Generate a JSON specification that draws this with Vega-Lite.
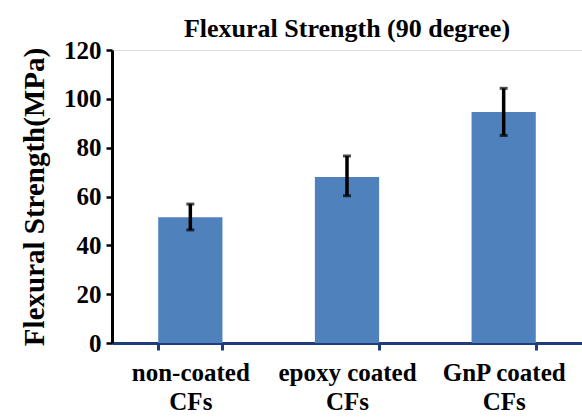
{
  "$schema": "https://vega.github.io/schema/vega-lite/v6.json",
  "width": 470,
  "height": 293,
  "autosize": {"type": "none"},
  "padding": {"left": 112, "top": 50, "right": 0, "bottom": 76},
  "background": "white",
  "title": {
    "text": "Flexural Strength (90 degree)",
    "font": "Liberation Serif",
    "fontSize": 26,
    "fontWeight": "bold",
    "color": "black",
    "anchor": "middle",
    "frame": "group",
    "offset": -4
  },
  "data": {
    "values": [
      {"group": "non-coated CFs", "strength": 51.5, "lo": 46.3, "hi": 56.9},
      {"group": "epoxy coated CFs", "strength": 68.0, "lo": 60.3, "hi": 76.6},
      {"group": "GnP coated CFs", "strength": 94.6, "lo": 85.0, "hi": 104.3}
    ]
  },
  "config": {
    "axis": {"grid": false, "labelFont": "Liberation Serif", "titleFont": "Liberation Serif", "labelFontWeight": "bold", "titleFontWeight": "bold", "labelColor": "black", "titleColor": "black"}
  },
  "layer": [
    {
      "mark": {"type": "bar", "color": "#4F81BD"},
      "encoding": {
        "x": {
          "field": "group",
          "type": "nominal",
          "sort": null,
          "scale": {"paddingInner": 0.59, "paddingOuter": 0.295},
          "axis": {
            "title": null,
            "labelAngle": 0,
            "labelFontSize": 25,
            "labelLineHeight": 29,
            "labelPadding": 10,
            "labelExpr": "datum.label ? [slice(datum.label, 0, lastindexof(datum.label, ' ')), 'CFs'] : ''",
            "tickBand": "extent",
            "domainColor": "#1F3C7C",
            "domainWidth": 3,
            "tickColor": "#1F3C7C",
            "tickWidth": 3,
            "tickSize": 7
          }
        },
        "y": {
          "field": "strength",
          "type": "quantitative",
          "scale": {"domain": [0, 120]},
          "axis": {
            "title": "Flexural Strength(MPa)",
            "values": [0, 20, 40, 60, 80, 100, 120],
            "labelFontSize": 25,
            "labelPadding": 5,
            "titleFontSize": 29,
            "titlePadding": 14,
            "domainColor": "#000000",
            "domainWidth": 3,
            "tickColor": "#000000",
            "tickWidth": 2.5,
            "tickSize": 6
          }
        }
      }
    },
    {
      "mark": {"type": "rule", "color": "black", "strokeWidth": 3.5},
      "encoding": {
        "x": {"field": "group", "type": "nominal", "sort": null},
        "y": {"field": "lo", "type": "quantitative"},
        "y2": {"field": "hi"}
      }
    },
    {
      "mark": {"type": "tick", "color": "black", "size": 8, "thickness": 3},
      "encoding": {
        "x": {"field": "group", "type": "nominal", "sort": null},
        "y": {"field": "lo", "type": "quantitative"}
      }
    },
    {
      "mark": {"type": "tick", "color": "black", "size": 8, "thickness": 3},
      "encoding": {
        "x": {"field": "group", "type": "nominal", "sort": null},
        "y": {"field": "hi", "type": "quantitative"}
      }
    }
  ]
}
